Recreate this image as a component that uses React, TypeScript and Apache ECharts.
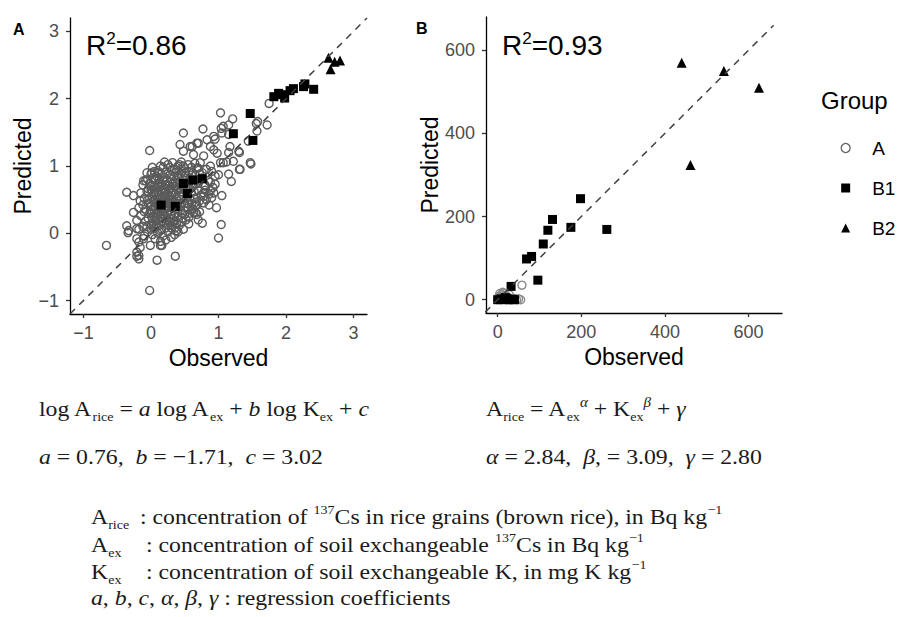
import React, { useEffect, useRef } from "react";
import * as echarts from "echarts";

const groupNames = ["A", "B1", "B2"];
const panelATicks = [-1, 0, 1, 2, 3];
const panelBTicks = [0, 200, 400, 600];
const panelAExtent = [-1.2, 3.2];
const panelBXExtent = [-28, 680];
const panelBYExtent = [-32, 680];
const panelADiagonal = [[-1.2, -1.2], [3.2, 3.2]];
const panelBDiagonal = [[-30, -30], [660, 660]];
const r2Texts = ["0.86", "0.93"];

// Panel A: observed vs predicted (log scale), group A (open circles)
const panelAGroupA: number[][] = [
  [-0.66, -0.18], [-0.02, -0.85], [-0.02, 1.23], [-0.36, 0.61], [-0.26, 0.56], [-0.36, 0.11], [-0.34, 0.01],
  [-0.21, 0.07], [-0.21, -0.08], [-0.21, -0.28], [-0.21, -0.34], [-0.16, -0.21], [0.09, -0.4], [0.36, -0.34],
  [0.16, -0.18], [1.0, -0.07], [0.76, 0.15], [1.04, 0.13], [1.03, 1.79], [1.21, 1.7], [0.77, 1.55], [0.48, 1.49],
  [1.04, 1.56], [1.15, 1.61], [1.58, 1.66], [1.72, 1.61], [1.75, 1.93], [1.56, 1.63], [1.48, 1.03], [1.31, 0.95],
  [1.15, 0.88], [1.19, 0.77], [1.31, 1.2], [1.17, 1.29], [1.44, 1.37], [0.97, 0.38], [1.05, 0.56], [0.93, 0.6],
  [0.46, 0.17], [0.63, 0.31], [0.43, 1.32], [0.48, 1.22], [0.58, 1.29], [0.7, 1.34], [0.83, 1.39], [0.93, 1.44],
  [0.93, 1.24], [0.78, 1.15], [0.73, 1.05], [0.88, 1.0], [1.03, 1.05], [0.98, 1.19], [1.12, 1.06],
  [1.07, 1.59], [1.05, 1.49], [0.68, 1.34], [0.95, 1.4], [1.15, 1.47], [0.61, 1.29], [0.88, 1.29], [1.3, 1.22],
  [1.15, 1.2], [0.63, 1.17], [1.22, 1.07], [1.47, 1.05], [1.07, 1.05], [0.68, 0.97], [1.32, 0.95], [1.0, 0.87],
  [1.57, 1.52], [-0.26, 0.31], [-0.18, 0.38], [-0.16, 0.48], [-0.21, 0.19], [-0.33, 0.04], [-0.18, 0.06],
  [-0.11, -0.08], [0.33, 0.16], [0.38, 0.04], [0.78, 0.55], [0.9, 0.53], [0.88, 0.63], [0.66, 0.41], [0.66, 0.31],
  [0.68, 0.28], [0.95, 0.73], [0.8, 0.7], [-0.18, -0.13], [-0.18, -0.33], [-0.18, -0.38], [-0.01, -0.18],
  [0.14, -0.18], [-0.11, 0.78], [-0.06, 0.9], [0.01, 0.9],
  [0.25, 1.02], [0.32, 1.05], [0.4, 1.0], [0.45, 1.06], [0.55, 1.02], [0.6, 0.98], [0.18, 0.98], [0.1, 0.93],
  [0.35, 0.95], [0.5, 0.96], [0.65, 1.04], [0.05, 0.92], [0.22, 0.91], [0.7, 0.97],
  [0.0, 0.88], [0.08, 0.85], [0.15, 0.88], [0.28, 0.87], [0.36, 0.9], [0.44, 0.88], [0.52, 0.86], [0.62, 0.9],
  [0.72, 0.88], [-0.05, 0.8], [0.12, 0.8], [0.2, 0.83], [0.31, 0.8], [0.4, 0.82], [0.47, 0.8], [0.58, 0.82],
  [0.68, 0.8], [-0.08, 0.78],
  [-0.12, 0.72], [-0.02, 0.74], [0.05, 0.7], [0.14, 0.74], [0.22, 0.72], [0.28, 0.76], [0.35, 0.7], [0.42, 0.74],
  [0.55, 0.72], [0.62, 0.7], [0.7, 0.74], [0.8, 0.72], [0.85, 0.78], [0.18, 0.66], [0.0, 0.65], [0.1, 0.62],
  [-0.15, 0.6], [-0.06, 0.62], [0.04, 0.58], [0.12, 0.56], [0.2, 0.6], [0.26, 0.64], [0.32, 0.6], [0.38, 0.66],
  [0.45, 0.62], [0.52, 0.66], [0.6, 0.6], [0.7, 0.64], [0.78, 0.6], [0.86, 0.58], [0.28, 0.55], [0.42, 0.56],
  [-0.1, 0.52],
  [-0.05, 0.5], [0.03, 0.48], [0.08, 0.45], [0.16, 0.5], [0.22, 0.47], [0.3, 0.5], [0.36, 0.46], [0.44, 0.5],
  [0.5, 0.45], [0.58, 0.5], [0.65, 0.52], [0.72, 0.48], [0.82, 0.5], [-0.12, 0.42], [0.0, 0.4], [0.12, 0.38],
  [0.25, 0.4], [0.4, 0.4], [0.55, 0.38], [0.68, 0.42],
  [-0.1, 0.32], [-0.02, 0.3], [0.05, 0.34], [0.1, 0.28], [0.18, 0.32], [0.24, 0.28], [0.3, 0.33], [0.36, 0.3],
  [0.44, 0.34], [0.5, 0.28], [0.58, 0.3], [0.62, 0.36], [0.72, 0.32], [-0.15, 0.26], [0.02, 0.22], [0.14, 0.24],
  [0.28, 0.22], [0.4, 0.24],
  [-0.08, 0.18], [0.0, 0.14], [0.07, 0.18], [0.12, 0.12], [0.2, 0.16], [0.26, 0.12], [0.34, 0.18], [0.42, 0.12],
  [0.52, 0.2], [-0.12, 0.1], [0.05, 0.08], [0.16, 0.06], [0.3, 0.08],
  [-0.05, 0.02], [0.02, -0.02], [0.1, 0.0], [0.18, -0.04], [0.25, 0.02], [0.35, -0.02], [0.06, -0.08],
  [-0.1, -0.04], [0.22, -0.1], [0.14, -0.12],
  [0.02, 0.55], [0.08, 0.6], [0.15, 0.64], [0.24, 0.58], [0.3, 0.68], [0.36, 0.58], [0.1, 0.5], [0.18, 0.44],
  [0.27, 0.46], [0.34, 0.42], [0.06, 0.4], [0.2, 0.36], [0.32, 0.38], [0.0, 0.3], [0.12, 0.32], [0.26, 0.34],
  [0.08, 0.24], [0.2, 0.26], [0.34, 0.26], [0.16, 0.18], [0.04, 0.12], [0.28, 0.16], [0.14, 0.7], [0.24, 0.78],
  [0.34, 0.84], [0.06, 0.78], [0.4, 0.64], [0.46, 0.7], [0.48, 0.56], [0.54, 0.58], [0.5, 0.9], [0.3, 0.94],
  [0.12, 0.9], [0.42, 1.02], [0.2, 1.06], [0.26, 0.5], [0.14, 0.4], [0.38, 0.5], [0.02, 0.62], [-0.04, 0.44],
  [-0.08, 0.36], [0.45, 0.44], [0.52, 0.52], [0.6, 0.44], [0.64, 0.62], [0.56, 0.76], [0.66, 0.86], [0.75, 0.82],
  [0.76, 0.9], [0.82, 0.95], [0.9, 0.92], [0.95, 0.85], [0.88, 0.76], [0.92, 0.68], [0.8, 0.64], [0.74, 0.56],
  [0.78, 0.45], [0.86, 0.42], [0.7, 0.2], [0.56, 0.14], [0.48, 0.06], [0.4, 0.02], [0.3, -0.06],
  [-0.02, 0.52], [0.06, 0.5], [0.12, 0.46], [0.2, 0.52], [0.24, 0.44], [0.32, 0.46], [0.38, 0.42], [0.44, 0.4],
  [0.0, 0.35], [0.08, 0.3], [0.15, 0.35], [0.22, 0.38], [0.3, 0.28], [0.38, 0.36], [0.46, 0.3],
  [-0.04, 0.22], [0.04, 0.26], [0.1, 0.2], [0.18, 0.22], [0.24, 0.2], [0.32, 0.22], [0.38, 0.14], [0.46, 0.22],
  [-0.06, 0.1], [0.0, 0.06], [0.08, 0.1], [0.14, 0.04], [0.22, 0.08], [0.3, 0.12], [0.36, 0.08],
  [0.0, 0.7], [0.08, 0.68], [0.16, 0.6], [0.22, 0.66], [0.3, 0.62], [0.36, 0.76], [0.44, 0.66], [0.5, 0.74],
  [-0.04, 0.66], [0.04, 0.82], [0.1, 0.74], [0.18, 0.78], [0.26, 0.7], [0.32, 0.74], [0.4, 0.86], [0.46, 0.92],
  [0.02, 0.98], [0.14, 1.0], [0.28, 0.98], [0.38, 0.94], [0.48, 1.0], [0.56, 0.92], [0.6, 0.86], [0.64, 0.74],
  [0.58, 0.66], [0.54, 0.44], [0.6, 0.36], [0.5, 0.34], [0.66, 0.46], [0.56, 0.24],
];
const panelAGroupB1: number[][] = [
  [0.15, 0.42], [0.36, 0.4], [0.48, 0.74], [0.54, 0.59], [0.62, 0.79], [0.76, 0.81], [1.22, 1.48], [1.47, 1.78],
  [1.51, 1.38], [1.82, 2.03], [1.89, 2.08], [1.98, 2.01], [2.06, 2.12], [2.11, 2.15], [2.26, 2.18], [2.28, 2.22],
  [2.41, 2.14], [1.94, 2.06],
];
const panelAGroupB2: number[][] = [
  [2.63, 2.61], [2.66, 2.44], [2.72, 2.55], [2.8, 2.57],
];

// Panel B: observed vs predicted (Bq/kg)
const panelBGroupA: number[][] = [
  [0, 0], [2, 2], [5, 5], [8, 3], [10, 12], [12, 18], [15, 8], [18, 3], [20, 10], [22, 2], [25, 5], [30, 0],
  [35, 3], [40, 2], [45, 0], [50, 2], [55, 0], [58, 35], [5, 15], [3, 8], [15, 15], [10, 5], [28, 12],
];
const panelBGroupB1: number[][] = [
  [198, 243], [131, 193], [120, 167], [175, 174], [261, 169], [109, 134], [81, 104], [69, 98], [96, 47], [32, 32],
  [0, 0], [8, 2], [15, 0], [22, 3], [28, 0], [35, 1], [40, 0], [18, 5],
];
const panelBGroupB2: number[][] = [
  [440, 570], [541, 550], [625, 510], [461, 324],
];

const SANS = "'Liberation Sans', Arial, Helvetica, sans-serif";
const SERIF = "'Liberation Serif', 'Times New Roman', serif";

function minusFmt(v: number) {
  return v < 0 ? "\u2212" + Math.abs(v) : String(v);
}

function valueAxis(gridIndex: number, ext: number[], ticks: number[], name: string, isX: boolean) {
  return {
    type: "value",
    gridIndex,
    min: ext[0],
    max: ext[1],
    name,
    nameLocation: "middle",
    nameGap: isX ? 32 : 35,
    nameTextStyle: { fontFamily: SANS, fontSize: 23, color: "#000" },
    axisLine: { show: true, onZero: false, lineStyle: { color: "#000", width: 1.3 } },
    axisTick: { show: true, customValues: ticks, length: 4, lineStyle: { color: "#333", width: 1.3 } },
    axisLabel: {
      show: true,
      customValues: ticks,
      formatter: minusFmt,
      fontFamily: SANS,
      fontSize: 18,
      color: "#4d4d4d",
      margin: isX ? 10 : 11,
    },
    splitLine: { show: false },
  };
}

const circleStyle = { color: "rgba(0,0,0,0)", borderColor: "#5a5a5a", borderWidth: 1.4, opacity: 1 };

function scatterSeries(idx: number, name: string, data: number[][]) {
  const base: any = {
    type: "scatter",
    name,
    xAxisIndex: idx,
    yAxisIndex: idx,
    data,
    silent: true,
  };
  if (name === "A") {
    base.symbol = "circle";
    base.symbolSize = 8;
    base.itemStyle = idx === 0 ? circleStyle : { ...circleStyle, borderColor: "#8a8a8a" };
  } else if (name === "B1") {
    base.symbol = "rect";
    base.symbolSize = 9;
    base.itemStyle = { color: "#000", opacity: 1 };
    base.z = 3;
  } else {
    base.symbol = "triangle";
    base.symbolSize = 10;
    base.itemStyle = { color: "#000", opacity: 1 };
    base.z = 3;
  }
  return base;
}

function diagSeries(idx: number, data: number[][]) {
  return {
    type: "line",
    name: "diag" + idx,
    xAxisIndex: idx,
    yAxisIndex: idx,
    data,
    symbol: "none",
    silent: true,
    z: 5,
    lineStyle: { color: "#404040", width: 1.5, type: [7, 6] },
  };
}

const serifRich = {
  t: { fontFamily: SERIF, fontSize: 22, fill: "#1a1a1a", lineHeight: 28 },
  i: { fontFamily: SERIF, fontSize: 22, fill: "#1a1a1a", lineHeight: 28, fontStyle: "italic" },
  s: { fontFamily: SERIF, fontSize: 13, fill: "#1a1a1a", lineHeight: 13, verticalAlign: "bottom" },
  p: { fontFamily: SERIF, fontSize: 13, fill: "#1a1a1a", lineHeight: 13, verticalAlign: "top" },
  pi: { fontFamily: SERIF, fontSize: 14, fill: "#1a1a1a", lineHeight: 14, verticalAlign: "top", fontStyle: "italic" },
};

function serifText(x: number, y: number, text: string) {
  return {
    type: "text",
    x,
    y,
    scaleX: 1.08,
    silent: true,
    style: { text, rich: serifRich, verticalAlign: "middle", align: "left", fontFamily: SERIF, fontSize: 22, fill: "#1a1a1a" },
  };
}

function r2Text(x: number, y: number, value: string) {
  return {
    type: "text",
    x,
    y,
    silent: true,
    style: {
      text: "{r|R}{p|2}{r|=" + value + "}",
      verticalAlign: "middle",
      rich: {
        r: { fontFamily: SANS, fontSize: 28, fill: "#000", lineHeight: 30 },
        p: { fontFamily: SANS, fontSize: 17, fill: "#000", lineHeight: 17, verticalAlign: "top" },
      },
    },
  };
}

export default function App() {
  const ref = useRef<HTMLDivElement>(null);
  useEffect(() => {
    if (!ref.current) return;
    const chart = echarts.init(ref.current, null, { renderer: "svg" });
    const option: any = {
      animation: false,
      backgroundColor: "#fff",
      grid: [
        { left: 70, top: 18, width: 297, height: 296 },
        { left: 486, top: 17, width: 296, height: 296 },
      ],
      xAxis: [
        valueAxis(0, panelAExtent, panelATicks, "Observed", true),
        valueAxis(1, panelBXExtent, panelBTicks, "Observed", true),
      ],
      yAxis: [
        valueAxis(0, panelAExtent, panelATicks, "Predicted", false),
        valueAxis(1, panelBYExtent, panelBTicks, "Predicted", false),
      ],
      legend: {
        orient: "vertical",
        left: 835.5,
        top: 133,
        itemWidth: 9,
        itemHeight: 9,
        itemGap: 20,
        selectedMode: false,
        data: [
          { name: groupNames[0], icon: "circle", itemStyle: { color: "rgba(0,0,0,0)", borderColor: "#666", borderWidth: 1.3, opacity: 1 } },
          { name: groupNames[1], icon: "rect", itemStyle: { color: "#000", borderWidth: 0, opacity: 1 } },
          { name: groupNames[2], icon: "triangle", itemStyle: { color: "#000", borderWidth: 0, opacity: 1 } },
        ],
        textStyle: { fontFamily: SANS, fontSize: 19, color: "#000", lineHeight: 20, padding: [0, 0, 0, 17] },
      },
      series: [
        scatterSeries(0, groupNames[0], panelAGroupA),
        scatterSeries(0, groupNames[1], panelAGroupB1),
        scatterSeries(0, groupNames[2], panelAGroupB2),
        diagSeries(0, panelADiagonal),
        scatterSeries(1, groupNames[0], panelBGroupA),
        scatterSeries(1, groupNames[1], panelBGroupB1),
        scatterSeries(1, groupNames[2], panelBGroupB2),
        diagSeries(1, panelBDiagonal),
      ],
      graphic: [
        { type: "text", x: 13, y: 29, silent: true, style: { text: "A", fontFamily: SANS, fontSize: 16, fontWeight: "bold", fill: "#000", verticalAlign: "middle" } },
        { type: "text", x: 416, y: 28, silent: true, style: { text: "B", fontFamily: SANS, fontSize: 16, fontWeight: "bold", fill: "#000", verticalAlign: "middle" } },
        r2Text(86, 45, r2Texts[0]),
        r2Text(502, 45, r2Texts[1]),
        { type: "text", x: 821, y: 100, silent: true, style: { text: "Group", fontFamily: SANS, fontSize: 24, fill: "#000", verticalAlign: "middle" } },
        serifText(39, 409, "{t|log A}{s|rice}{t| = }{i|a}{t| log A}{s|ex}{t| + }{i|b}{t| log K}{s|ex}{t| + }{i|c}"),
        serifText(486, 409, "{t|A}{s|rice}{t| = A}{s|ex}{pi|α}{t| + K}{s|ex}{pi|β}{t| + }{i|γ}"),
        serifText(39, 457, "{i|a}{t| = 0.76,  }{i|b}{t| = \u22121.71,  }{i|c}{t| = 3.02}"),
        serifText(486, 457, "{i|α}{t| = 2.84,  }{i|β}{t|, = 3.09,  }{i|γ}{t| = 2.80}"),
        serifText(91, 517, "{t|A}{s|rice}"),
        serifText(140, 517, "{t|: concentration of }{p|137}{t|Cs in rice grains (brown rice), in Bq kg}{p|\u22121}"),
        serifText(91, 545, "{t|A}{s|ex}"),
        serifText(146, 545, "{t|: concentration of soil exchangeable }{p|137}{t|Cs in Bq kg}{p|\u22121}"),
        serifText(91, 572, "{t|K}{s|ex}"),
        serifText(146, 572, "{t|: concentration of soil exchangeable K, in mg K kg}{p|\u22121}"),
        serifText(91, 598, "{i|a}{t|, }{i|b}{t|, }{i|c}{t|, }{i|α}{t|, }{i|β}{t|, }{i|γ}{t| : regression coefficients}"),
      ],
    };
    chart.setOption(option);
    return () => chart.dispose();
  }, []);
  return (
    <div
      ref={ref}
      style={{ position: "fixed", left: 0, top: 0, width: 897, height: 617, background: "#fff" }}
    />
  );
}
